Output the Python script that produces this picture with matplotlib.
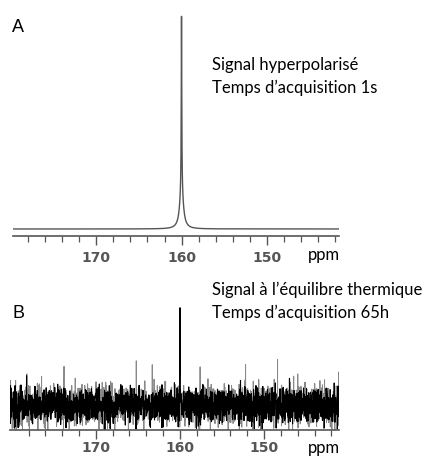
import matplotlib
matplotlib.use("Agg")
import matplotlib.pyplot as plt
import numpy as np


# === DATA ===
# panel A : hyperpolarised signal, one line at 160 ppm (narrow + broad component)
peak_a_center = [160.0, 160.0]
peak_a_height = [0.82, 0.18]
peak_a_hwhm = [0.035, 0.25]

# panel B : thermal equilibrium, same line buried in noise
peak_b_center = [160.0]
peak_b_height = [0.92]
peak_b_hwhm = [0.02]
# a few isolated noise spikes (ppm, height)
spike_ppm = [165.2, 163.3, 162.0, 159.9, 157.6, 152.2, 148.4, 146.0]
spike_height = [0.40, 0.46, 0.30, -0.12, 0.30, 0.33, 0.40, 0.30]
noise_sd = 0.085

major_ticks = [170, 160, 150]
minor_ticks = list(range(142, 180, 2))

text_a = ["Signal hyperpolarisé", "Temps d\u2019acquisition 1s"]
text_b = ["Signal à l\u2019équilibre thermique", "Temps d\u2019acquisition 65h"]


def lorentz(x, centers, heights, hwhms):
    y = np.zeros_like(x)
    for c, h, w in zip(centers, heights, hwhms):
        y += h * w**2 / ((x - c) ** 2 + w**2)
    return y


def style_axis(ax, pad):
    for side in ["left", "right", "top"]:
        ax.spines[side].set_visible(False)
    ax.spines["bottom"].set_color("#555555")
    ax.spines["bottom"].set_linewidth(1.2)
    ax.set_yticks([])
    ax.set_xticks(major_ticks)
    ax.set_xticks([t for t in minor_ticks if t not in major_ticks], minor=True)
    ax.tick_params(axis="x", which="major", direction="out", length=6.5, width=1.0,
                   color="#555555", pad=pad, labelsize=10, labelcolor="#555555")
    ax.tick_params(axis="x", which="minor", direction="out", length=4, width=0.9,
                   color="#555555")
    for lab in ax.get_xticklabels():
        lab.set_fontweight("bold")
    ax.patch.set_alpha(0)


# === FIGURE ===
W, H = 438, 457
fig = plt.figure(figsize=(W / 100, H / 100), dpi=100)


def px_axes(x0, x1, ytop, ybot):
    return fig.add_axes([x0 / W, 1 - ybot / H, (x1 - x0) / W, (ybot - ytop) / H])


text_font = ["Lato", "DejaVu Sans"]
fs = 12

# --- Panel A ---
ax_a = px_axes(13, 339, 14, 236)
x_a = np.linspace(141.0, 181.0, 16000)
y_a = lorentz(x_a, peak_a_center, peak_a_height, peak_a_hwhm)
ax_a.plot(x_a, y_a, color="#555555", lw=1.0)
ax_a.set_xlim(179.8, 141.5)
ax_a.set_ylim(-0.033, 1.01)
style_axis(ax_a, 4)

fig.text(12 / W, 1 - 27 / H, "A", fontsize=13, family="Liberation Sans", va="center")
fig.text(212 / W, 1 - 65 / H, text_a[0], fontsize=fs, family=text_font, va="center")
fig.text(212 / W, 1 - 88 / H, text_a[1], fontsize=fs, family=text_font, va="center")
fig.text(308 / W, 1 - 255 / H, "ppm", fontsize=fs, family=text_font, va="center")

# --- Panel B ---
ax_b = px_axes(10, 339, 300, 430)
x_b = np.linspace(141.0, 181.0, 2400)
rng = np.random.default_rng(3)   # thermal noise of the spectrum
noise_gray = rng.normal(0, noise_sd * 1.2, x_b.size)
noise_black = rng.normal(0, noise_sd, x_b.size)
spikes = np.zeros_like(x_b)
for p, h in zip(spike_ppm, spike_height):
    spikes[np.argmin(np.abs(x_b - p))] = h
y_gray = noise_gray + spikes
ax_b.plot(x_b, y_gray, color="#888888", lw=0.7)
x_fine = np.linspace(141.0, 181.0, 16000)
y_black = np.interp(x_fine, x_b, noise_black) + lorentz(x_fine, peak_b_center, peak_b_height, peak_b_hwhm)
ax_b.plot(x_fine, y_black, color="black", lw=0.8)
ax_b.set_xlim(180.2, 141.1)
ax_b.set_ylim(-0.25, 1.07)
style_axis(ax_b, 1.5)

fig.text(12 / W, 1 - 314 / H, "B", fontsize=13, family="Liberation Sans", va="center")
fig.text(212 / W, 1 - 290 / H, text_b[0], fontsize=fs, family=text_font, va="center")
fig.text(212 / W, 1 - 313 / H, text_b[1], fontsize=fs, family=text_font, va="center")
fig.text(308 / W, 1 - 448 / H, "ppm", fontsize=fs, family=text_font, va="center")

fig.savefig("out.png", dpi=100)
